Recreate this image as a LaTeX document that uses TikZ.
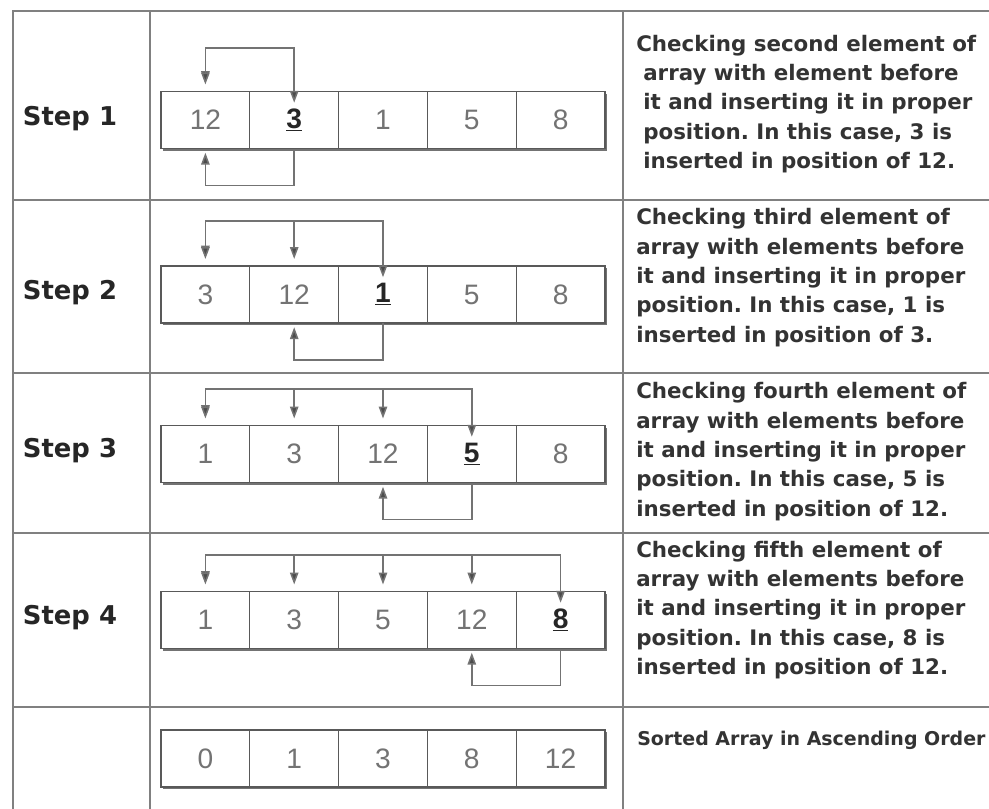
\documentclass[tikz,border=0pt]{standalone}
\usepackage{fontspec}
\setmainfont{DejaVu Sans}
\newfontfamily\numfont{Liberation Sans}
\usetikzlibrary{positioning,arrows.meta,shadows}
\frenchspacing
\tikzset{
	grid/.style={draw=black!50,line width=1.2pt},
	cell/.style={draw=black!65,line width=0.9pt,fill=white,minimum width=2.22cm,minimum height=1.425cm,
		inner sep=0pt,outer sep=0pt,text=black!55,font=\numfont\fontsize{20}{22}\selectfont,
		drop shadow={shadow xshift=1.1pt,shadow yshift=-1.5pt,fill=black!55,opacity=1}},
	steplbl/.style={font=\bfseries\fontsize{18.4}{22}\selectfont,text=black!85,inner sep=0pt},
	desc/.style={font=\bfseries\fontsize{15.2}{20.9}\selectfont,text=black!80,align=left,anchor=west,inner sep=0pt},
	link/.style={draw=black!55,line width=1.1pt,>={Triangle[length=8.5pt,width=6pt,fill=black!70]}}
}
\newcommand\hl[1]{\textbf{\color{black!85}\underline{#1}}}
\begin{document}
\begin{tikzpicture}[x=0.025cm,y=-0.025cm]
	\useasboundingbox[fill=white] (0,0) rectangle (989,809);
	% table
	\draw[grid] (989,11) -- (13,11) -- (13,809);
	\draw[grid] (150,11) -- (150,809) (623,11) -- (623,809);
	\foreach \ry in {200,373,533,707}
		\draw[grid] (13,\ry) -- (989,\ry);
	% arrays
	\foreach \s/\y/\vals in {1/120/{12,\hl{3},1,5,8},2/294.5/{3,12,\hl{1},5,8},3/454/{1,3,12,\hl{5},8},4/620/{1,3,5,12,\hl{8}},5/758.5/{0,1,3,8,12}}{
		\foreach \v [count=\i] in \vals
			\node[cell] (s\s-\i) at ({161+88.8*(\i-0.5)},\y) {\v};
	}
	\foreach \s/\y in {1/119,2/293,3/451,4/618}
		\node[steplbl] (l\s) at (70,\y) {Step \s};
	% moves
	\foreach \s/\k/\h in {1/2/31,2/3/32,3/4/26,4/5/26}{
		\pgfmathtruncatemacro\p{\k-1}
		\draw[link,<->] ([yshift=6pt]s\s-1.north) -- ([yshift=\h pt]s\s-1.north) -- ([yshift=\h pt]s\s-\k.north) -- ([yshift=-8pt]s\s-\k.north);
		\foreach \j in {1,...,\p}
			\draw[link,->] ([yshift=\h pt]s\s-\j.north) -- ([yshift=5pt]s\s-\j.north);
		\draw[link,->] (s\s-\k.south) -- ++(0,37) -| ([yshift=-3pt]s\s-\p.south);
	}
	% notes
	\node[desc] (d1) at (643,104) {\hspace*{-5pt}Checking second element of\\array with element before\\it and inserting it in proper\\position. In this case, 3 is\\inserted in position of 12.};
	\node[desc] (d2) at (636,277.5) {Checking third element of\\array with elements before\\it and inserting it in proper\\position. In this case, 1 is\\inserted in position of 3.};
	\node[desc] (d3) at (636,451.5) {Checking fourth element of\\array with elements before\\it and inserting it in proper\\position. In this case, 5 is\\inserted in position of 12.};
	\node[desc] (d4) at (636,610) {Checking fifth element of\\array with elements before\\it and inserting it in proper\\position. In this case, 8 is\\inserted in position of 12.};
	\node[desc,font=\bfseries\fontsize{13.5}{16}\selectfont] (d5) at (637,740) {Sorted Array in Ascending Order};
\end{tikzpicture}
\end{document}
